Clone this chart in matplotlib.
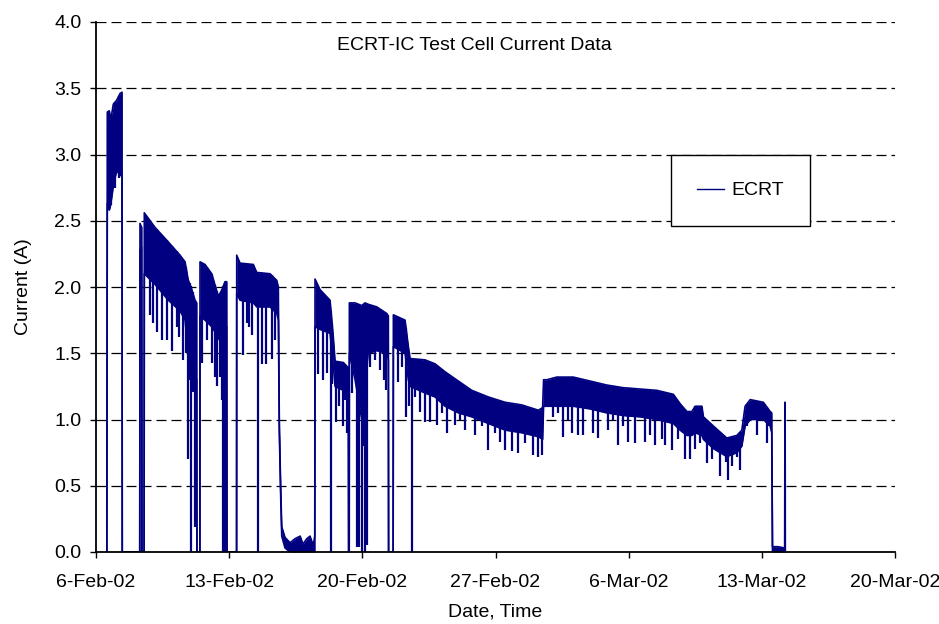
import numpy as np
import matplotlib
matplotlib.use('Agg')
import matplotlib.pyplot as plt
import matplotlib.dates as mdates
from matplotlib.lines import Line2D

plt.rcParams['font.family'] = ['Liberation Sans', 'DejaVu Sans']

# ---------------- data ----------------
start = np.datetime64('2002-02-06T00:00')

# envelope of the dense current trace: days since 6-Feb-02, upper and lower edge (A)
band_days = [0.57, 0.594, 0.699, 0.773, 0.910, 1.088, 1.262, 1.367, 1.38,
             2.30, 2.313, 2.403, 2.415,
             2.53, 2.539, 3.102, 3.801, 4.416, 4.679, 4.853, 4.995, 5.205, 5.294, 5.305,
             5.46, 5.468, 5.731, 6.083, 6.430, 6.625, 6.782, 6.872, 6.885,
             7.39, 7.397, 7.571, 8.270, 8.449, 9.148, 9.501, 9.585, 9.637, 9.711, 9.764,
             9.937, 10.20, 10.46, 10.73, 10.88, 11.08, 11.25, 11.42, 11.50,
             11.514, 11.777, 12.303, 12.476, 12.566, 13.002, 13.265, 13.28,
             13.31, 13.318, 13.618, 13.97, 14.143, 14.30, 14.758, 15.284, 15.368, 15.38,
             15.62, 15.631, 16.246, 16.419, 16.509, 17.297, 17.823, 18.349, 19.048,
             19.753, 20.625, 21.504, 22.382, 23.255, 23.476,
             23.528, 23.70, 24.22, 25.09, 25.97, 26.85, 27.72, 28.60, 29.48, 30.35,
             30.70, 31.06, 31.32, 31.50, 31.85, 31.93, 32.46, 33.16, 33.69, 33.95,
             34.12, 34.39, 35.08, 35.44, 35.52, 35.56, 35.85, 36.20, 36.215, 36.225, 36.235]
band_hi = [0.0, 3.32, 3.33, 3.26, 3.38, 3.41, 3.46, 3.47, 0.0,
           0.0, 2.48, 2.45, 0.0,
           0.0, 2.56, 2.45, 2.34, 2.24, 2.19, 2.05, 2.00, 1.90, 1.88, 0.0,
           0.0, 2.19, 2.17, 2.10, 1.93, 1.98, 2.04, 2.04, 0.0,
           0.0, 2.24, 2.18, 2.17, 2.11, 2.10, 2.05, 2.00, 0.97, 0.47, 0.19,
           0.11, 0.07, 0.10, 0.12, 0.06, 0.10, 0.12, 0.05, 0.12,
           2.06, 1.98, 1.90, 1.62, 1.44, 1.43, 1.39, 0.0,
           0.0, 1.88, 1.88, 1.86, 1.88, 1.87, 1.85, 1.80, 1.78, 0.0,
           0.0, 1.79, 1.75, 1.55, 1.46, 1.45, 1.42, 1.36, 1.29,
           1.22, 1.17, 1.13, 1.11, 1.07, 1.09,
           1.30, 1.30, 1.32, 1.32, 1.29, 1.26, 1.24, 1.23, 1.22, 1.19,
           1.12, 1.06, 1.06, 1.10, 1.10, 1.02, 0.95, 0.86, 0.88, 0.92,
           1.10, 1.15, 1.13, 1.06, 1.05, 0.04, 0.04, 0.03, 1.13, 1.13, 0.0]
band_lo = [0.0, 2.63, 2.58, 2.62, 2.76, 2.88, 2.84, 2.85, 0.0,
           0.0, 2.28, 2.30, 0.0,
           0.0, 2.10, 2.02, 1.90, 1.82, 1.75, 1.50, 1.40, 1.30, 1.30, 0.0,
           0.0, 1.78, 1.75, 1.70, 1.62, 1.55, 1.60, 1.70, 0.0,
           0.0, 1.95, 1.90, 1.88, 1.85, 1.85, 1.80, 1.75, 0.90, 0.40, 0.12,
           0.03, 0.0, 0.0, 0.0, 0.0, 0.0, 0.0, 0.0, 0.0,
           1.70, 1.68, 1.65, 1.40, 1.25, 1.22, 1.20, 0.0,
           0.0, 1.50, 1.30, 1.00, 1.20, 1.50, 1.52, 1.50, 1.45, 0.0,
           0.0, 1.55, 1.50, 1.30, 1.25, 1.20, 1.17, 1.10, 1.05,
           1.02, 0.97, 0.92, 0.90, 0.87, 0.85,
           1.10, 1.10, 1.10, 1.10, 1.08, 1.05, 1.03, 1.02, 1.00, 0.97,
           0.92, 0.88, 0.88, 0.90, 0.88, 0.85, 0.78, 0.72, 0.75, 0.80,
           0.95, 1.00, 1.00, 0.95, 0.90, 0.0, 0.0, 0.0, 0.0, 0.0, 0.0]

# short downward excursions of the trace: day, lowest value (A)
spike_days = [0.70, 0.80, 1.00, 1.20,
              2.839, 3.013, 3.191, 3.454, 3.717, 4.012, 4.243, 4.364, 4.590, 4.732,
              4.853, 4.916, 4.979, 5.074, 5.205,
              5.557, 5.820, 6.083, 6.257, 6.346, 6.519, 6.640, 6.693, 6.782,
              7.744, 7.923, 8.044, 8.186, 8.533, 8.712, 8.938, 9.238, 9.411,
              11.688, 11.950, 12.145, 12.355, 12.408, 12.618, 12.776, 12.971, 13.091, 13.212,
              13.460, 13.707, 13.775, 13.843, 13.970, 14.038, 14.143, 14.232, 14.405,
              14.668, 14.932, 15.142, 15.247,
              15.894, 16.088, 16.298, 16.456, 16.598, 16.772, 17.035, 17.297, 17.560,
              17.913, 18.176, 18.439, 18.875, 19.138, 19.401, 19.926, 20.279, 20.594,
              20.978, 21.241, 21.504, 21.856, 22.203, 22.555, 22.992, 23.223, 23.465,
              24.043, 24.290, 24.569, 24.816, 25.011, 25.358, 25.620, 26.146, 26.409,
              26.935, 27.182, 27.461, 27.708, 27.986, 28.339, 28.864, 29.127, 29.390,
              29.742, 29.916, 30.268, 30.599, 30.967, 31.230, 31.493, 31.756, 32.108,
              32.371, 32.808, 33.123, 33.244, 33.438, 33.686, 33.859, 34.212, 34.737,
              35.263, 35.336]
spike_low = [2.58, 2.62, 2.75, 2.82,
             1.79, 1.73, 1.66, 1.60, 1.60, 1.52, 1.70, 1.62, 1.45, 1.50,
             0.70, 1.30, 0.0, 1.21, 0.19,
             1.43, 1.60, 1.43, 1.32, 1.25, 1.32, 1.15, 0.0, 0.0,
             1.49, 1.73, 1.70, 1.64, 0.0, 1.42, 1.42, 1.46, 1.60,
             1.34, 1.30, 1.35, 0.0, 1.27, 0.98, 1.10, 0.95, 1.15, 0.90,
             1.20, 0.04, 0.50, 0.04, 0.0, 0.80, 0.0, 0.05, 1.40,
             1.45, 1.37, 1.30, 1.22,
             1.28, 1.40, 1.02, 1.10, 0.0, 1.17, 1.06, 0.98, 0.98,
             0.96, 1.05, 0.90, 0.96, 1.00, 0.92, 0.88, 0.95, 0.77,
             0.90, 0.83, 0.77, 0.76, 0.75, 0.82, 0.73, 0.72, 0.73,
             1.02, 1.05, 0.87, 1.00, 0.90, 0.88, 0.88, 0.90, 0.86,
             0.92, 1.00, 0.81, 0.95, 0.83, 0.82, 0.83, 0.88, 0.81,
             0.85, 0.81, 0.77, 0.85, 0.70, 0.70, 0.78, 0.82, 0.67,
             0.70, 0.57, 0.68, 0.54, 0.65, 0.72, 0.62, 0.95, 0.88,
             0.82, 0.95]

tick_dates = ['2002-02-06', '2002-02-13', '2002-02-20', '2002-02-27',
              '2002-03-06', '2002-03-13', '2002-03-20']
tick_labels = ['6-Feb-02', '13-Feb-02', '20-Feb-02', '27-Feb-02',
               '6-Mar-02', '13-Mar-02', '20-Mar-02']
y_ticks = [0.0, 0.5, 1.0, 1.5, 2.0, 2.5, 3.0, 3.5, 4.0]

title = 'ECRT-IC Test Cell Current Data'
series_name = 'ECRT'
x_title = 'Date, Time'
y_title = 'Current (A)'

# ---------------- drawing ----------------
navy = '#000080'
t0 = mdates.date2num(start)
bx = t0 + np.asarray(band_days)
bh = np.asarray(band_hi)
bl = np.asarray(band_lo)
sx = t0 + np.asarray(spike_days)
sl = np.asarray(spike_low)
stop = np.interp(sx, bx, bh)

fig = plt.figure(figsize=(9.39, 6.24), dpi=100)
ax = fig.add_axes([96 / 939, 1 - 552 / 624, 799 / 939, 530 / 624])

for yv in y_ticks[1:]:
    ax.axhline(yv, color='black', lw=0.9, ls=(0, (8, 4)), zorder=0)

ax.fill_between(bx, bl, bh, color=navy, lw=0, zorder=2)
ax.plot(bx, bh, color=navy, lw=1.2, zorder=3)
ax.plot(bx, bl, color=navy, lw=1.2, zorder=3)
ax.vlines(sx, sl, stop, color=navy, lw=1.6, zorder=3)

xt = mdates.date2num(np.array(tick_dates, dtype='datetime64[D]'))
ax.set_xlim(xt[0], xt[-1])
ax.set_ylim(0, 4)
ax.set_xticks(xt)
ax.set_xticklabels(tick_labels)
ax.set_yticks(y_ticks)
ax.set_yticklabels([f'{v:.1f}' for v in y_ticks])
ax.tick_params(direction='out', length=4.5, width=1, labelsize=14, colors='black')
ax.tick_params(axis='x', pad=11)
ax.tick_params(axis='y', pad=6)

for s in ['top', 'right']:
    ax.spines[s].set_visible(False)
for s in ['left', 'bottom']:
    ax.spines[s].set_linewidth(1.3)
    ax.spines[s].set_color('black')
    ax.spines[s].set_zorder(5)

ax.set_xlabel(x_title, fontsize=14, labelpad=9.5)
ax.set_ylabel(y_title, fontsize=14, labelpad=16)
ax.text(0.474, 0.955, title, transform=ax.transAxes, ha='center', va='center', fontsize=14)

handle = Line2D([], [], color=navy, lw=1.0)
leg = ax.legend([handle], [series_name], loc='center', bbox_to_anchor=(0.8066, 0.682),
                fontsize=14, frameon=True, fancybox=False, shadow=False, framealpha=1,
                edgecolor='black', borderpad=1.35, handlelength=1.4, handletextpad=0.36)
leg.get_frame().set_linewidth(1.0)

fig.savefig('out.png', dpi=100)
